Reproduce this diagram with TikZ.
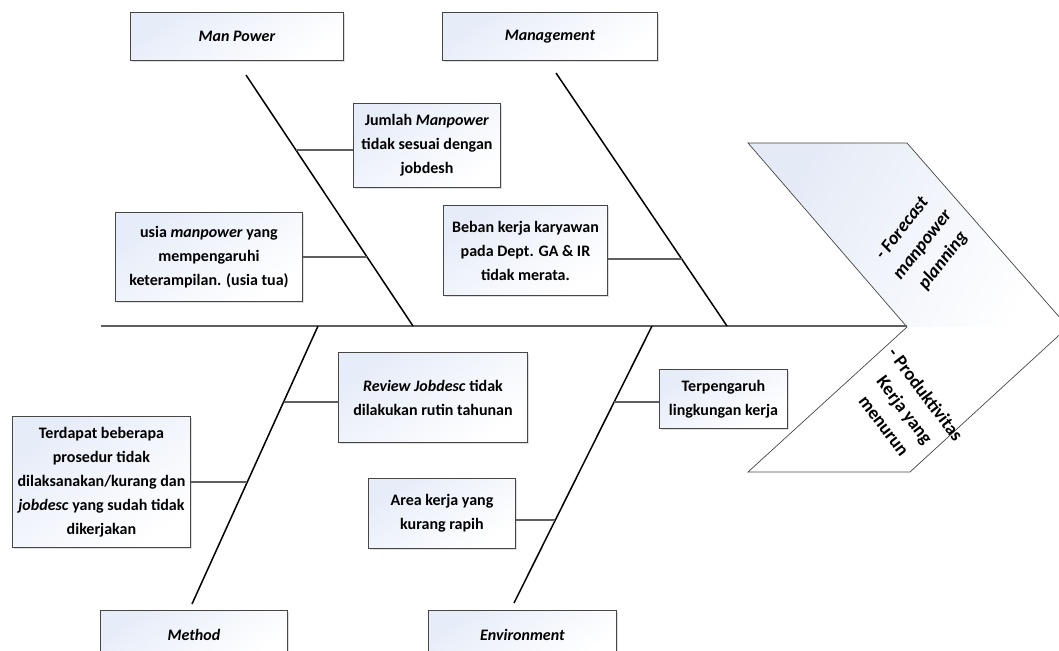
\documentclass[tikz,border=0pt]{standalone}
\usepackage{fontspec}
\setmainfont{Carlito}
\usetikzlibrary{shadows,calc}
\definecolor{boxblue}{RGB}{230,236,248}
\definecolor{chevblue}{RGB}{228,234,246}
\definecolor{edgegray}{RGB}{70,70,70}
\definecolor{linegray}{RGB}{95,95,95}
\tikzset{
  cbox/.style={draw=edgegray, line width=0.9pt, anchor=north west, inner sep=2pt,
    top color=boxblue, bottom color=white, shading angle=35,
    drop shadow={shadow xshift=1.2pt, shadow yshift=-1.2pt, opacity=0.25},
    align=center, font=\fontsize{16}{24}\selectfont\bfseries},
  efftext/.style={align=center, font=\fontsize{18.5}{26}\selectfont\bfseries},
  bone/.style={line width=1.5pt, black},
  spine/.style={line width=1.1pt, linegray},
  twig/.style={line width=1.1pt, linegray},
}
\begin{document}
\begin{tikzpicture}[x=1pt,y=-1pt]
\useasboundingbox (0,0) rectangle (1059,650);
\begin{scope}
\clip (0,0) rectangle (1059,650);
% chevron
\shade[left color=chevblue, right color=white, shading angle=60]
  (748,143) -- (907,143) -- (1068,327) -- (907,327) -- cycle;
\draw[edgegray, line width=0.7pt] (748,143) -- (907,143) -- (1068,327) -- (910,472) -- (748,472) -- (907,327) -- cycle;
\node[rotate=52, efftext] (eff1) at (923,245) {\itshape - Forecast\\\itshape manpower\\\itshape planning};
\node[rotate=-53, efftext] (eff2) at (905,410) {- Produktivitas\\Kerja yang\\menurun};
% category boxes
\node[cbox, minimum width=213pt, minimum height=48pt] (mp) at (130,12) {\itshape Man Power};
\node[cbox, minimum width=215pt, minimum height=48pt] (mg) at (442,12) {\itshape Management};
\node[cbox, minimum width=187pt, minimum height=48pt] (me) at (100,610) {\itshape Method};
\node[cbox, minimum width=188pt, minimum height=48pt] (en) at (428,610) {\itshape Environment};
% spine
\coordinate (sp0) at (101,326);
\coordinate (sp1) at (907,326);
\draw[spine] (sp0) -- (sp1);
% bones
\coordinate (mpA) at (246,75);  \coordinate (mpB) at (413,326);
\coordinate (mgA) at (556,73);  \coordinate (mgB) at (727,326);
\coordinate (meA) at (318,326); \coordinate (meB) at (192,604);
\coordinate (enA) at (652,326); \coordinate (enB) at (514,603);
\draw[bone] (mpA) -- (mpB);
\draw[bone] (mgA) -- (mgB);
\draw[bone] (meA) -- (meB);
\draw[bone] (enA) -- (enB);
% cause boxes
\node[cbox, minimum width=147pt, minimum height=84pt] (c1) at (353,103) {Jumlah \textit{Manpower}\\tidak sesuai dengan\\jobdesh};
\node[cbox, minimum width=187pt, minimum height=89pt] (c2) at (115,212) {usia \textit{manpower} yang\\mempengaruhi\\keterampilan. (usia tua)};
\node[cbox, minimum width=164pt, minimum height=90pt] (c3) at (443,205) {Beban kerja karyawan\\pada Dept. GA \& IR\\tidak merata.};
\node[cbox, minimum width=189pt, minimum height=90pt] (c4) at (338,352) {\textit{Review Jobdesc} tidak\\dilakukan rutin tahunan};
\node[cbox, minimum width=178pt, minimum height=131pt] (c5) at (12,416) {Terdapat beberapa\\prosedur tidak\\dilaksanakan/kurang dan\\\textit{jobdesc} yang sudah tidak\\dikerjakan};
\node[cbox, minimum width=128pt, minimum height=59pt] (c6) at (659,369) {Terpengaruh\\lingkungan kerja};
\node[cbox, minimum width=147pt, minimum height=70pt] (c7) at (368,478) {Area kerja yang\\kurang rapih};
% twigs
\coordinate (t1) at (296,150);
\coordinate (t2) at (367,257);
\coordinate (t3) at (682,259);
\coordinate (t4) at (284,402);
\coordinate (t5) at (247,482);
\coordinate (t6) at (614,402);
\coordinate (t7) at (555,520);
\draw[twig] (t1) -- (t1 -| c1.west);
\draw[twig] (t2) -- (t2 -| c2.east);
\draw[twig] (t3) -- (t3 -| c3.east);
\draw[twig] (t4) -- (t4 -| c4.west);
\draw[twig] (t5) -- (t5 -| c5.east);
\draw[twig] (t6) -- (t6 -| c6.west);
\draw[twig] (t7) -- (t7 -| c7.east);
\end{scope}
\end{tikzpicture}
\end{document}
